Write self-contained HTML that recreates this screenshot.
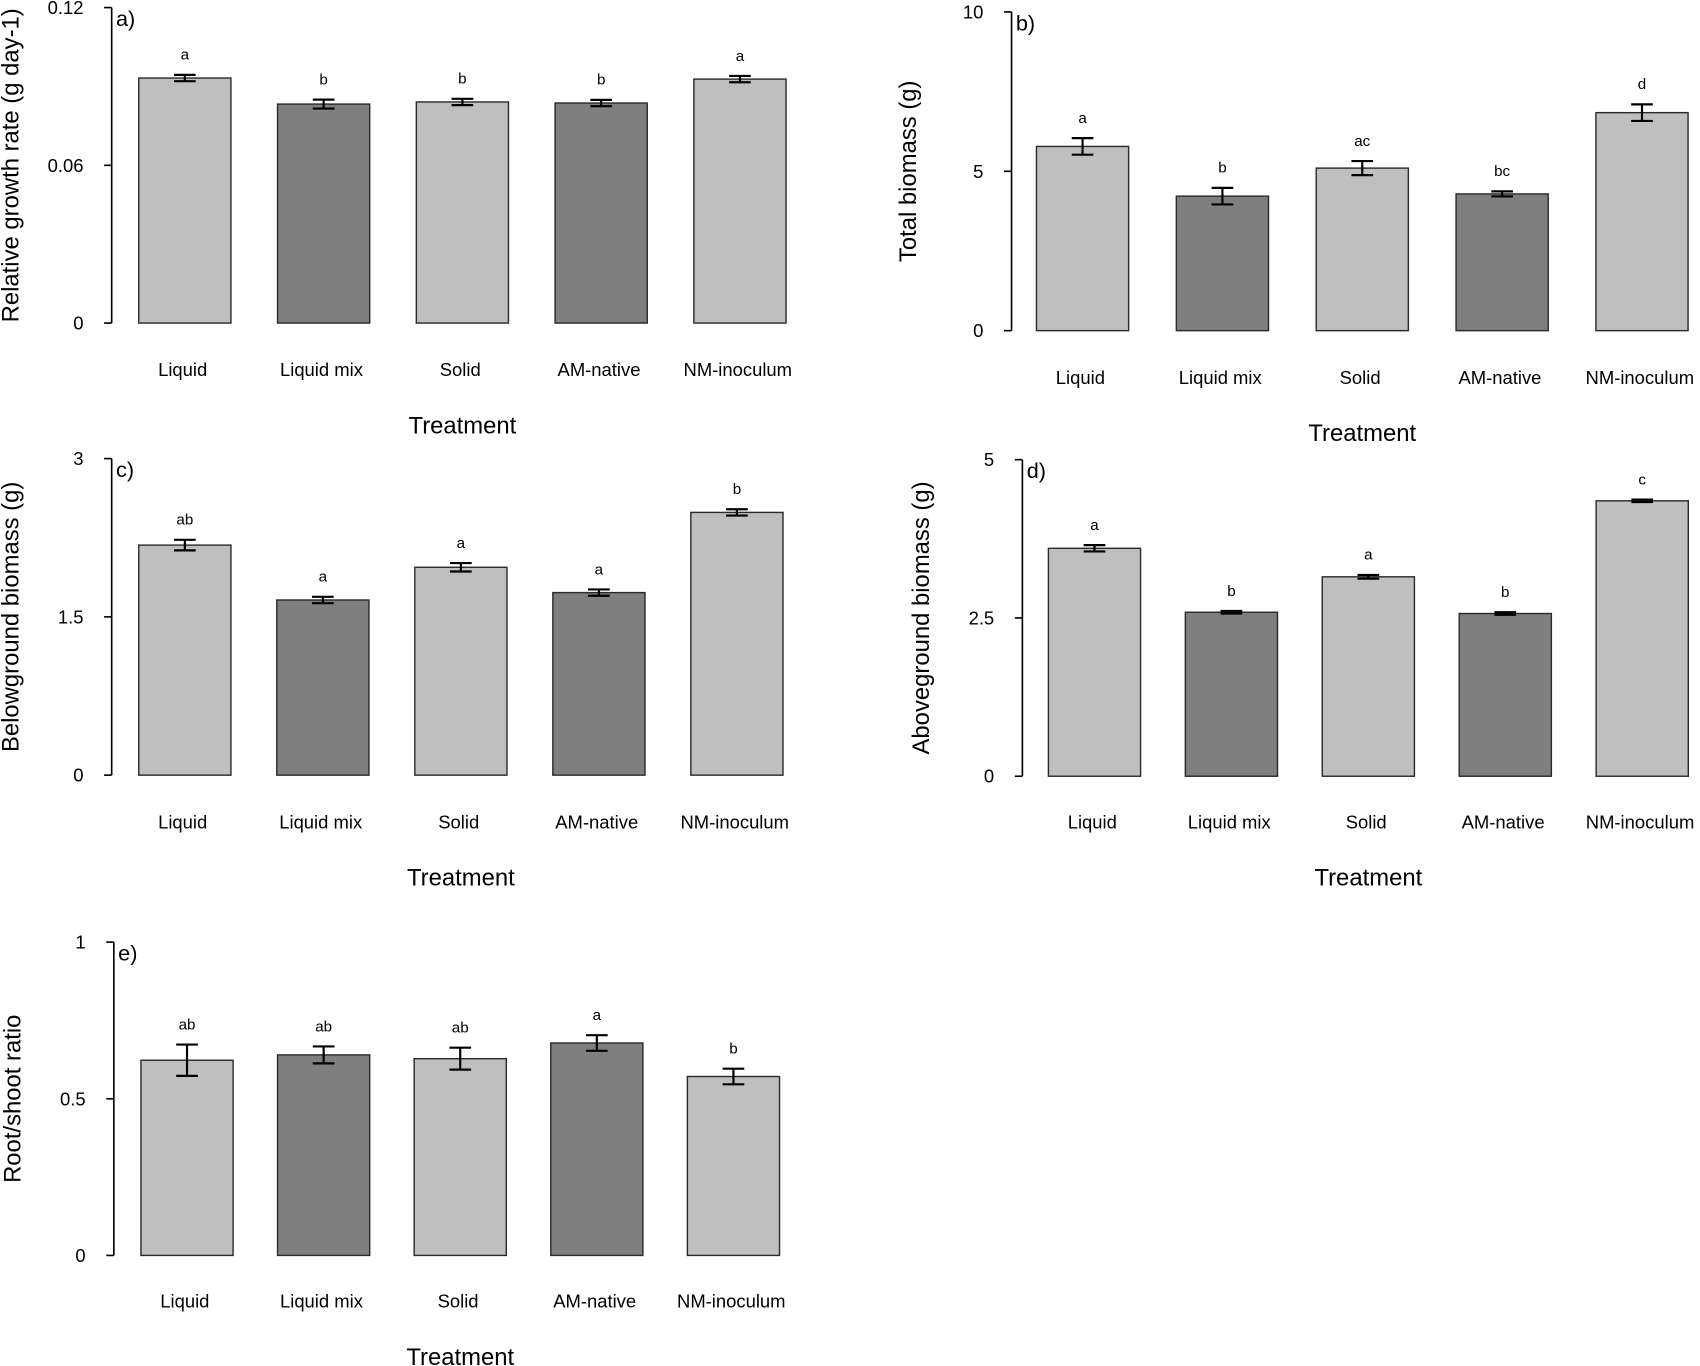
<!DOCTYPE html>
<html><head><meta charset="utf-8"><style>
html,body{margin:0;padding:0;background:#fff;}
svg{display:block;}
.n{font-family:"Liberation Sans Narrow","Liberation Sans",sans-serif;fill:#000;}
.w{font-family:"Liberation Sans",sans-serif;fill:#000;}
</style></head><body>
<svg id="fig" width="1700" height="1366" viewBox="0 0 1568 1260" preserveAspectRatio="none" xmlns="http://www.w3.org/2000/svg"></svg>
<script>
const categories = ["Liquid","Liquid mix","Solid","AM-native","NM-inoculum"];
const rgrValues = [0.0932,0.0833,0.0841,0.0837,0.0928];
const rgrErrors = [0.0012,0.0017,0.0012,0.0012,0.0012];
const rgrLetters = ["a","b","b","b","a"];
const rgrTicks = [0,0.06,0.12];
const rgrTickLabels = ["0","0.06","0.12"];
const totValues = [5.78,4.22,5.10,4.29,6.84];
const totErrors = [0.26,0.26,0.22,0.08,0.26];
const totLetters = ["a","b","ac","bc","d"];
const totTicks = [0,5,10];
const totTickLabels = ["0","5","10"];
const belowValues = [2.18,1.66,1.97,1.73,2.49];
const belowErrors = [0.05,0.03,0.04,0.03,0.03];
const belowLetters = ["ab","a","a","a","b"];
const belowTicks = [0,1.5,3];
const belowTickLabels = ["0","1.5","3"];
const aboveValues = [3.60,2.59,3.15,2.57,4.35];
const aboveErrors = [0.05,0.02,0.03,0.02,0.02];
const aboveLetters = ["a","b","a","b","c"];
const aboveTicks = [0,2.5,5];
const aboveTickLabels = ["0","2.5","5"];
const rsValues = [0.623,0.640,0.628,0.678,0.571];
const rsErrors = [0.050,0.027,0.035,0.025,0.025];
const rsLetters = ["ab","ab","ab","a","b"];
const rsTicks = [0,0.5,1];
const rsTickLabels = ["0","0.5","1"];

const NS="http://www.w3.org/2000/svg";
const svg=document.getElementById('fig');
function mk(tag,attrs,parent){const e=document.createElementNS(NS,tag);for(const k in attrs)e.setAttribute(k,attrs[k]);(parent||svg).appendChild(e);return e;}

function panel(cfg){
  const g=mk('g',{});
  
  
  const ymax=cfg.ticks[cfg.ticks.length-1];
  const y=v=>cfg.y0-(v/ymax)*(cfg.y0-cfg.yTop);
  const ax=mk('line',{x1:cfg.ax,x2:cfg.ax,y1:y(ymax),y2:y(0),stroke:'#000','stroke-width':1.5},g);
  
  
  cfg.ticks.forEach((t,i)=>{
    const tk=mk('line',{x1:cfg.ax-7,x2:cfg.ax,y1:y(t),y2:y(t),stroke:'#000','stroke-width':1.5},g);
    
    
    const tl=mk('text',{x:cfg.ax-26,y:y(t)+6,'font-size':17,'text-anchor':'end',class:'n'},g);
    tl.textContent=cfg.tickLabels[i];
    
    
  });
  const pl=mk('text',{x:cfg.ax+4,y:y(ymax)+17,'font-size':20,class:'n'},g);
  pl.textContent=cfg.label;
  
  
  const cy=(y(0)+y(ymax))/2;
  const yt=mk('text',{x:cfg.ylx,y:cy,'font-size':22,'text-anchor':'middle',class:'w',transform:`rotate(-90 ${cfg.ylx} ${cy})`},g);
  yt.textContent=cfg.ytitle;
  
  
  const bw=85;
  cfg.values.forEach((v,i)=>{
    const x=cfg.x0+i*cfg.step;
    const r=mk('rect',{x:x,y:y(v),width:bw,height:y(0)-y(v),fill:i%2?'#7f7f7f':'#bfbfbf',stroke:'#2a2a2a','stroke-width':1.3},g);
    
    
    const cx=x+bw/2, e=cfg.errors[i];
    const eb=mk('path',{d:`M${cx-10},${y(v+e)}H${cx+10}M${cx},${y(v+e)}V${y(v-e)}M${cx-10},${y(v-e)}H${cx+10}`,stroke:'#000','stroke-width':2,fill:'none'},g);
    
    
    const lt=mk('text',{x:cx,y:y(v+e)-14,'font-size':14,'text-anchor':'middle',class:'n'},g);
    lt.textContent=cfg.letters[i];
    
    
    const cl=mk('text',{x:cx-2,y:cfg.catY,'font-size':17,'text-anchor':'middle',class:'n'},g);
    cl.textContent=categories[i];
    
    
  });
  const xt=mk('text',{x:cfg.x0+2*cfg.step+bw/2,y:cfg.catY+53,'font-size':22,'text-anchor':'middle',class:'n'},g);
  xt.textContent='Treatment';
  
  
}
panel({name:'panel-a-relative-growth-rate',label:'a)',ytitle:'Relative growth rate (g day-1)',values:rgrValues,errors:rgrErrors,letters:rgrLetters,ticks:rgrTicks,tickLabels:rgrTickLabels,ax:103,yTop:7,y0:298,x0:128,step:128,catY:347,ylx:17});
panel({name:'panel-b-total-biomass',label:'b)',ytitle:'Total biomass (g)',values:totValues,errors:totErrors,letters:totLetters,ticks:totTicks,tickLabels:totTickLabels,ax:933,yTop:11,y0:305,x0:956,step:129,catY:354,ylx:845});
panel({name:'panel-c-belowground-biomass',label:'c)',ytitle:'Belowground biomass (g)',values:belowValues,errors:belowErrors,letters:belowLetters,ticks:belowTicks,tickLabels:belowTickLabels,ax:103,yTop:423,y0:715,x0:128,step:127.3,catY:764,ylx:17});
panel({name:'panel-d-aboveground-biomass',label:'d)',ytitle:'Aboveground biomass (g)',values:aboveValues,errors:aboveErrors,letters:aboveLetters,ticks:aboveTicks,tickLabels:aboveTickLabels,ax:943,yTop:424,y0:716,x0:967,step:126.3,catY:764,ylx:857});
panel({name:'panel-e-root-shoot-ratio',label:'e)',ytitle:'Root/shoot ratio',values:rsValues,errors:rsErrors,letters:rsLetters,ticks:rsTicks,tickLabels:rsTickLabels,ax:105,yTop:869,y0:1158,x0:130,step:126,catY:1206,ylx:19});
</script>
</body></html>
